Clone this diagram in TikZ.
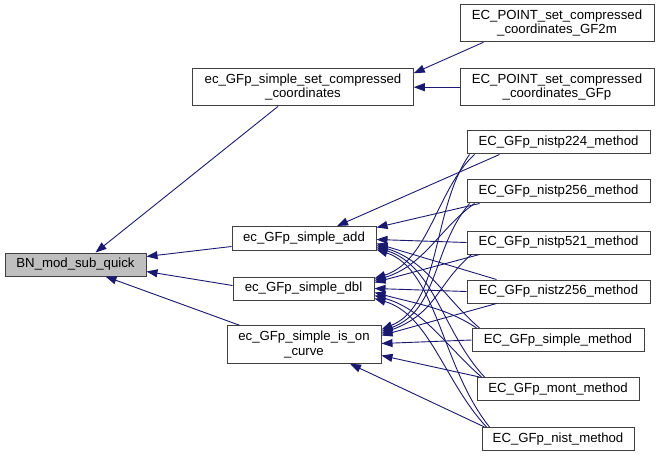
\documentclass[tikz,border=0pt]{standalone}
\usepackage{fontspec}
\setmainfont{Liberation Sans}
\usetikzlibrary{arrows.meta,calc}
\definecolor{edgeblue}{HTML}{191970}
\definecolor{boxgray}{HTML}{BFBFBF}
\begin{document}
\begin{tikzpicture}[x=1pt,y=-1pt,
  box/.style={draw=black!75,line width=1pt,fill=white,inner sep=0pt,align=center,
    font=\fontsize{13.2}{14.5}\selectfont,minimum height=23pt},
  tall/.style={minimum height=37.5pt},
  edge/.style={draw=edgeblue,line width=0.9pt,-{Triangle[length=11pt,width=8pt]}}]
\useasboundingbox (0,0) rectangle (661,457);
\fill[white] (0,0) rectangle (661,457);
% nodes
\node[box,fill=boxgray,minimum width=141pt] (bn) at (75.5,264.5) {BN\_mod\_sub\_quick};
\node[box,tall,minimum width=220.5pt] (setc) at (303,87.2) {ec\_GFp\_simple\_set\_compressed\\\_coordinates};
\node[box,tall,minimum width=194pt] (gf2m) at (557,23) {EC\_POINT\_set\_compressed\\\_coordinates\_GF2m};
\node[box,tall,minimum width=194pt] (gfp) at (557,87.2) {EC\_POINT\_set\_compressed\\\_coordinates\_GFp};
\node[box,minimum width=144pt,minimum height=24pt] (add) at (304,238.5) {ec\_GFp\_simple\_add};
\node[box,minimum width=141pt] (dbl) at (303.5,288.5) {ec\_GFp\_simple\_dbl};
\node[box,tall,minimum width=154pt] (ison) at (304,344.5) {ec\_GFp\_simple\_is\_on\\\_curve};
\node[box,minimum width=183pt] (p224) at (558.5,142.5) {EC\_GFp\_nistp224\_method};
\node[box,minimum width=183pt] (p256) at (558.5,191.5) {EC\_GFp\_nistp256\_method};
\node[box,minimum width=183pt] (p521) at (558.5,242.5) {EC\_GFp\_nistp521\_method};
\node[box,minimum width=183pt] (z256) at (558.5,291.5) {EC\_GFp\_nistz256\_method};
\node[box,minimum width=172pt] (simp) at (558,340) {EC\_GFp\_simple\_method};
\node[box,minimum width=162pt] (mont) at (558,389) {EC\_GFp\_mont\_method};
\node[box,minimum width=152pt] (nist) at (558,439) {EC\_GFp\_nist\_method};
% edges to BN_mod_sub_quick
\draw[edge] ($(setc.south)+(-25,0)$) -- ($(bn.north)+(20,0)$);
\draw[edge] ($(add.west)+(0,8)$) -- ($(bn.east)+(0,-8)$);
\draw[edge] ($(dbl.west)+(0,-3)$) -- ($(bn.east)+(0,7)$);
\draw[edge] ($(ison.north west)+(13,0)$) -- ($(bn.south)+(30,0)$);
% edges to set_compressed
\draw[edge] ($(gf2m.south west)+(24,0)$) -- ($(setc.east)+(0,-14)$);
\draw[edge] (gfp.west) -- (setc.east);
% nistp224
\draw[edge] ($(p224.south west)+(33,0)$) -- ($(add.north)+(33,0)$);
\draw[edge] ($(p224.south west)+(8,0)$) .. controls +(-38,35) and +(55,-18) .. ($(dbl.east)+(0,-10)$);
\draw[edge] ($(p224.south west)+(3,0)$) .. controls +(-38,55) and +(60,-25) .. ($(ison.east)+(0,-15)$);
% nistp256
\draw[edge] ($(p256.south west)+(13,0)$) -- ($(add.east)+(0,-11)$);
\draw[edge] ($(p256.south west)+(8,0)$) .. controls +(-35,25) and +(50,-15) .. ($(dbl.east)+(0,-8)$);
\draw[edge] ($(p256.south west)+(3,0)$) .. controls +(-38,45) and +(58,-22) .. ($(ison.east)+(0,-13)$);
% nistp521
\draw[edge] (p521.west) -- ($(add.east)+(0,1)$);
\draw[edge] ($(p521.south west)+(13,0)$) -- ($(dbl.east)+(0,-6)$);
\draw[edge] ($(p521.south west)+(5,0)$) .. controls +(-35,30) and +(55,-20) .. ($(ison.east)+(0,-11)$);
% nistz256
\draw[edge] ($(z256.north west)+(30,0)$) -- ($(add.east)+(0,5)$);
\draw[edge] (z256.west) -- ($(dbl.east)+(0,0)$);
\draw[edge] ($(z256.south west)+(30,0)$) -- ($(ison.east)+(0,-9)$);
% simple
\draw[edge] ($(simp.north west)+(8,0)$) .. controls +(-35,-30) and +(50,15) .. ($(add.east)+(0,7)$);
\draw[edge] ($(simp.north west)+(5,0)$) .. controls +(-30,-20) and +(45,12) .. ($(dbl.east)+(0,4)$);
\draw[edge] (simp.west) -- ($(ison.east)+(0,-1)$);
% mont
\draw[edge] ($(mont.north west)+(8,0)$) .. controls +(-42,-45) and +(58,18) .. ($(add.east)+(0,9)$);
\draw[edge] ($(mont.north west)+(5,0)$) .. controls +(-35,-30) and +(50,14) .. ($(dbl.east)+(0,7)$);
\draw[edge] ($(mont.north west)+(3,0)$) -- ($(ison.east)+(0,11)$);
% nist
\draw[edge] ($(nist.north west)+(8,0)$) .. controls +(-48,-60) and +(60,20) .. ($(add.east)+(0,11)$);
\draw[edge] ($(nist.north west)+(5,0)$) .. controls +(-42,-45) and +(55,16) .. ($(dbl.east)+(0,10)$);
\draw[edge] ($(nist.north west)+(3,0)$) -- ($(ison.south)+(46,0)$);
\end{tikzpicture}
\end{document}
